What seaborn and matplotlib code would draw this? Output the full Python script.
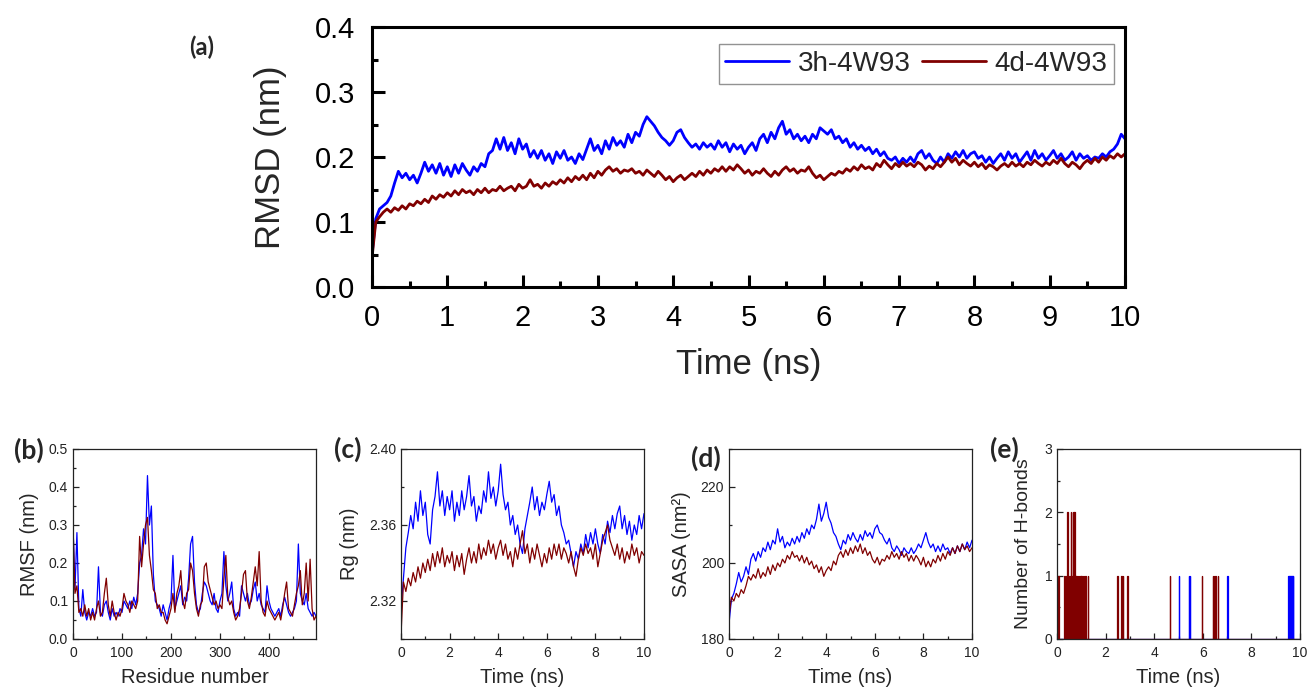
import numpy as np
import pandas as pd
import seaborn as sns
import matplotlib.pyplot as plt
from matplotlib.ticker import MultipleLocator, FormatStrFormatter, FixedLocator

sns.set_theme(style="ticks")
plt.rcParams["font.family"] = ["Liberation Sans", "DejaVu Sans"]

# ---- data ----
series_names = ["3h-4W93", "4d-4W93"]
colors = {"3h-4W93": "#0000ff", "4d-4W93": "#800000"}

# (a) RMSD, one value every 0.05 ns
rmsd_3h = [
    0.05, 0.105, 0.12, 0.125, 0.13, 0.14, 0.16, 0.178, 0.168, 0.175, 0.165, 0.172, 0.16, 0.175, 0.192, 0.178, 0.188, 0.175, 0.19, 0.172,
    0.185, 0.17, 0.188, 0.175, 0.19, 0.18, 0.172, 0.185, 0.178, 0.19, 0.185, 0.205, 0.21, 0.228, 0.212, 0.23, 0.21, 0.222, 0.205, 0.228,
    0.212, 0.22, 0.2, 0.21, 0.198, 0.21, 0.195, 0.205, 0.19, 0.208, 0.198, 0.21, 0.195, 0.2, 0.19, 0.205, 0.196, 0.212, 0.228, 0.21,
    0.218, 0.205, 0.225, 0.212, 0.23, 0.218, 0.225, 0.215, 0.235, 0.222, 0.238, 0.232, 0.25, 0.262, 0.255, 0.248, 0.238, 0.23, 0.225, 0.218,
    0.225, 0.238, 0.242, 0.23, 0.222, 0.215, 0.22, 0.212, 0.222, 0.215, 0.22, 0.212, 0.225, 0.215, 0.222, 0.208, 0.22, 0.212, 0.218, 0.205,
    0.215, 0.222, 0.21, 0.228, 0.235, 0.222, 0.238, 0.228, 0.245, 0.255, 0.235, 0.242, 0.228, 0.235, 0.225, 0.232, 0.222, 0.235, 0.228, 0.245,
    0.24, 0.235, 0.242, 0.228, 0.232, 0.222, 0.228, 0.215, 0.222, 0.212, 0.218, 0.21, 0.215, 0.205, 0.212, 0.202, 0.208, 0.198, 0.195, 0.2,
    0.19, 0.198, 0.192, 0.2, 0.192, 0.205, 0.21, 0.198, 0.205, 0.195, 0.19, 0.2, 0.192, 0.205, 0.198, 0.208, 0.2, 0.21, 0.198, 0.205,
    0.208, 0.198, 0.202, 0.192, 0.2, 0.19, 0.198, 0.205, 0.195, 0.208, 0.198, 0.205, 0.192, 0.2, 0.208, 0.195, 0.21, 0.198, 0.205, 0.195,
    0.202, 0.21, 0.198, 0.205, 0.195, 0.2, 0.208, 0.195, 0.205, 0.198, 0.202, 0.195, 0.2, 0.198, 0.205, 0.2, 0.208, 0.212, 0.22, 0.235,
    0.228,
]
rmsd_4d = [
    0.045, 0.1, 0.108, 0.115, 0.12, 0.115, 0.122, 0.118, 0.125, 0.12, 0.128, 0.125, 0.132, 0.128, 0.135, 0.13, 0.14, 0.135, 0.142, 0.138,
    0.145, 0.14, 0.148, 0.142, 0.15, 0.145, 0.148, 0.142, 0.15, 0.145, 0.152, 0.145, 0.15, 0.148, 0.155, 0.148, 0.152, 0.155, 0.148, 0.158,
    0.152, 0.155, 0.165, 0.155, 0.158, 0.152, 0.16, 0.155, 0.162, 0.158, 0.165, 0.16, 0.168, 0.162, 0.17, 0.165, 0.172, 0.165, 0.175, 0.168,
    0.178, 0.172, 0.18, 0.185, 0.178, 0.182, 0.175, 0.18, 0.178, 0.182, 0.175, 0.178, 0.172, 0.18, 0.175, 0.17, 0.178, 0.172, 0.165, 0.17,
    0.162, 0.168, 0.172, 0.165, 0.17, 0.175, 0.17, 0.178, 0.172, 0.18, 0.175, 0.182, 0.178, 0.185, 0.178, 0.185, 0.18, 0.188, 0.182, 0.175,
    0.18, 0.172, 0.178, 0.175, 0.182, 0.175, 0.17, 0.178, 0.172, 0.18, 0.185, 0.178, 0.182, 0.175, 0.18, 0.178, 0.185, 0.175, 0.168, 0.172,
    0.165, 0.17, 0.175, 0.172, 0.178, 0.175, 0.182, 0.178, 0.185, 0.18, 0.188, 0.182, 0.185, 0.18, 0.19, 0.185, 0.195, 0.188, 0.182, 0.19,
    0.185, 0.192, 0.186, 0.19, 0.185, 0.192, 0.188, 0.18, 0.186, 0.182, 0.19, 0.185, 0.192, 0.2, 0.192, 0.198, 0.188, 0.195, 0.19, 0.186,
    0.192, 0.185, 0.19, 0.182, 0.188, 0.185, 0.18, 0.186, 0.19, 0.185, 0.192, 0.186, 0.19, 0.185, 0.192, 0.188, 0.195, 0.19, 0.186, 0.192,
    0.188, 0.195, 0.19, 0.198, 0.19, 0.185, 0.192, 0.188, 0.182, 0.19, 0.195, 0.19, 0.198, 0.192, 0.2, 0.195, 0.202, 0.198, 0.205, 0.2,
    0.205,
]

# (b) RMSF, one value every 4 residues
rmsf_3h = [
    0.30, 0.13, 0.28, 0.08, 0.06, 0.13, 0.07, 0.05, 0.07, 0.06, 0.08, 0.06, 0.07, 0.19, 0.07, 0.06, 0.09, 0.10, 0.07, 0.05,
    0.08, 0.06, 0.07, 0.06, 0.08, 0.07, 0.10, 0.09, 0.08, 0.10, 0.08, 0.11, 0.09, 0.12, 0.20, 0.22, 0.29, 0.25, 0.43, 0.30,
    0.35, 0.17, 0.10, 0.09, 0.08, 0.06, 0.09, 0.07, 0.05, 0.08, 0.10, 0.22, 0.08, 0.10, 0.12, 0.14, 0.09, 0.11, 0.10, 0.16,
    0.25, 0.27, 0.15, 0.09, 0.07, 0.08, 0.12, 0.15, 0.14, 0.12, 0.10, 0.09, 0.12, 0.08, 0.07, 0.10, 0.12, 0.23, 0.14, 0.10,
    0.12, 0.15, 0.08, 0.06, 0.07, 0.06, 0.14, 0.12, 0.10, 0.12, 0.09, 0.10, 0.13, 0.15, 0.10, 0.12, 0.09, 0.08, 0.07, 0.14,
    0.10, 0.08, 0.07, 0.06, 0.07, 0.08, 0.06, 0.09, 0.11, 0.09, 0.07, 0.06, 0.07, 0.08, 0.10, 0.25, 0.12, 0.10, 0.09, 0.12,
    0.08, 0.07, 0.06, 0.07, 0.06,
]
rmsf_4d = [
    0.30, 0.12, 0.14, 0.07, 0.08, 0.06, 0.09, 0.06, 0.08, 0.05, 0.07, 0.05, 0.08, 0.10, 0.06, 0.07, 0.12, 0.16, 0.09, 0.06,
    0.10, 0.07, 0.05, 0.07, 0.06, 0.08, 0.12, 0.10, 0.09, 0.07, 0.10, 0.09, 0.08, 0.10, 0.27, 0.19, 0.25, 0.30, 0.32, 0.22,
    0.18, 0.13, 0.12, 0.08, 0.09, 0.07, 0.07, 0.05, 0.04, 0.06, 0.08, 0.12, 0.07, 0.12, 0.14, 0.18, 0.10, 0.08, 0.12, 0.13,
    0.20, 0.18, 0.12, 0.08, 0.06, 0.09, 0.10, 0.19, 0.20, 0.15, 0.13, 0.11, 0.09, 0.10, 0.08, 0.09, 0.08, 0.16, 0.22, 0.11,
    0.09, 0.10, 0.07, 0.05, 0.06, 0.08, 0.12, 0.17, 0.18, 0.10, 0.08, 0.11, 0.15, 0.19, 0.14, 0.23, 0.10, 0.07, 0.06, 0.10,
    0.08, 0.07, 0.06, 0.05, 0.06, 0.07, 0.05, 0.08, 0.12, 0.15, 0.08, 0.07, 0.06, 0.09, 0.12, 0.14, 0.18, 0.09, 0.12, 0.20,
    0.10, 0.21, 0.08, 0.05, 0.06,
]

# (c) Rg and (d) SASA, one value every 0.1 ns
rg_3h = [
    2.315, 2.332, 2.348, 2.356, 2.365, 2.358, 2.372, 2.362, 2.378, 2.365, 2.372, 2.355, 2.35, 2.368, 2.375, 2.388, 2.37, 2.378, 2.365, 2.375,
    2.368, 2.378, 2.362, 2.372, 2.365, 2.378, 2.368, 2.375, 2.386, 2.37, 2.375, 2.362, 2.37, 2.366, 2.378, 2.372, 2.388, 2.374, 2.38, 2.37,
    2.378, 2.392, 2.376, 2.368, 2.372, 2.36, 2.365, 2.355, 2.36, 2.35, 2.345, 2.358, 2.365, 2.372, 2.38, 2.368, 2.375, 2.365, 2.372, 2.368,
    2.376, 2.383, 2.372, 2.376, 2.365, 2.37, 2.36, 2.356, 2.35, 2.352, 2.345, 2.338, 2.346, 2.342, 2.35, 2.345, 2.355, 2.348, 2.356, 2.35,
    2.358, 2.35, 2.345, 2.355, 2.35, 2.362, 2.356, 2.365, 2.358, 2.366, 2.37, 2.358, 2.365, 2.355, 2.362, 2.352, 2.36, 2.355, 2.365, 2.358,
    2.366,
]
rg_4d = [
    2.302, 2.33, 2.325, 2.332, 2.328, 2.335, 2.33, 2.338, 2.332, 2.34, 2.335, 2.342, 2.336, 2.345, 2.338, 2.346, 2.34, 2.348, 2.338, 2.344,
    2.34, 2.346, 2.336, 2.344, 2.338, 2.345, 2.334, 2.342, 2.348, 2.34, 2.346, 2.34, 2.35, 2.342, 2.348, 2.344, 2.352, 2.345, 2.35, 2.342,
    2.348, 2.352, 2.344, 2.35, 2.342, 2.346, 2.338, 2.348, 2.342, 2.35, 2.357, 2.345, 2.35, 2.34, 2.348, 2.342, 2.35, 2.344, 2.338, 2.345,
    2.34, 2.348, 2.342, 2.35, 2.344, 2.35, 2.342, 2.348, 2.345, 2.34, 2.346, 2.338, 2.333, 2.342, 2.348, 2.344, 2.35, 2.345, 2.348, 2.342,
    2.35, 2.338, 2.345, 2.352, 2.356, 2.36, 2.352, 2.348, 2.344, 2.35, 2.342, 2.348, 2.34, 2.346, 2.342, 2.35, 2.344, 2.348, 2.34, 2.346,
    2.344,
]
sasa_3h = [
    184, 190.5, 192, 194.5, 197.5, 195, 196.5, 199, 197, 201, 202.5, 200.5, 203, 201.5, 204, 203, 205.5, 203.5, 206, 205,
    209, 205.5, 207, 204, 205.5, 204.5, 206.5, 205, 207, 205.5, 208, 206.5, 209, 207.5, 210, 209, 211.5, 215.5, 211, 213,
    216, 212, 210.5, 208, 207, 205, 203.5, 206, 205, 207.5, 206, 208, 206.5, 205.5, 207.5, 206, 208.5, 207, 208, 206.5,
    209, 210, 208, 207.5, 206, 205, 206.5, 204, 203, 204.5, 203.5, 202, 204, 203, 202.5, 204, 202.5, 203.5, 205, 204,
    206, 208, 205.5, 204, 205, 203, 204.5, 203, 205, 203.5, 204, 202.5, 204, 202.5, 204.5, 203, 205, 203.5, 205.5, 204,
    206,
]
sasa_4d = [
    186, 191, 190, 192, 191, 193, 192, 194, 196.5, 195.5, 197, 196, 198.5, 196, 197.5, 196.5, 199, 197, 199.5, 198,
    200, 199, 201, 200, 202, 201, 203, 201.5, 202, 200.5, 202, 200, 201.5, 199.5, 200.5, 198.5, 199.5, 197.5, 199, 196.5,
    198, 199, 198, 200.5, 199.5, 202, 203, 201.5, 203.5, 202, 204, 202.5, 204.5, 203, 205, 202.5, 204, 202, 203, 201,
    200, 201.5, 199.5, 201, 200.5, 202, 201, 203, 201.5, 202.5, 201, 203, 201.5, 202.5, 200.5, 202, 200.5, 202, 201, 199.5,
    201.5, 199, 200.5, 199, 201, 200, 202, 200.5, 202.5, 201, 203, 202, 204, 202.5, 204.5, 203, 205, 203.5, 204.5, 203,
    204,
]

# (e) hydrogen bonds: time (ns) of each frame with bonds, and the count
hb_3h_time = [5.0, 5.42, 5.46, 7.0, 9.52, 9.56, 9.6, 9.63, 9.67, 9.7]
hb_3h_count = [1, 1, 1, 1, 1, 1, 1, 1, 1, 1]
hb_4d_time = [0.04, 0.3, 0.35, 0.42, 0.47, 0.52, 0.56, 0.6, 0.64, 0.68, 0.72, 0.76, 0.8, 0.85, 0.9, 0.95,
              1.0, 1.05, 1.1, 1.15, 1.27, 2.47, 2.64, 2.71, 2.88, 4.63, 5.96, 6.41, 6.45, 6.5, 6.62]
hb_4d_count = [1, 1, 1, 2, 1, 1, 2, 1, 2, 2, 2, 1, 1, 1, 1, 1,
               1, 1, 1, 1, 1, 1, 1, 1, 1, 1, 1, 1, 1, 1, 1]


def spike_frame(times, counts, width=0.025):
    xs, ys = [0.0], [0.0]
    for t, n in zip(times, counts):
        xs += [t, t, t + width, t + width]
        ys += [0, n, n, 0]
    xs.append(10.0)
    ys.append(0.0)
    return pd.DataFrame({"time": xs, "count": ys})


W, H = 1307, 691
fig = plt.figure(figsize=(W / 100, H / 100), dpi=100)


def add_ax(left, top, right, bottom):
    return fig.add_axes([left / W, 1 - bottom / H, (right - left) / W, (bottom - top) / H])


def style_big(ax):
    for s in ax.spines.values():
        s.set_linewidth(2.2)
        s.set_color("black")
    ax.tick_params(which="both", direction="in", width=2.2, labelsize=21, pad=12, colors="black")
    ax.tick_params(which="major", length=9)
    ax.tick_params(which="minor", length=4.5)


def style_small(ax):
    for s in ax.spines.values():
        s.set_linewidth(0.9)
        s.set_color("#222222")
    ax.tick_params(which="both", direction="in", width=0.9, labelsize=10, colors="#222222")
    ax.tick_params(axis="x", pad=5)
    ax.tick_params(axis="y", pad=3.5)
    ax.tick_params(which="major", length=4)
    ax.tick_params(which="minor", length=2)


# ---- (a) RMSD ----
ax = add_ax(372, 27, 1125, 287)
t_a = np.arange(len(rmsd_3h)) * 0.05
sns.lineplot(x=t_a, y=rmsd_3h, color=colors["3h-4W93"], linewidth=2.0, label="3h-4W93", ax=ax)
sns.lineplot(x=np.arange(len(rmsd_4d)) * 0.05, y=rmsd_4d, color=colors["4d-4W93"], linewidth=2.0, label="4d-4W93", ax=ax)
ax.set_xlim(0, 10)
ax.set_ylim(0, 0.4)
ax.xaxis.set_major_locator(MultipleLocator(1))
ax.xaxis.set_minor_locator(MultipleLocator(0.5))
ax.yaxis.set_major_locator(MultipleLocator(0.1))
ax.yaxis.set_minor_locator(MultipleLocator(0.05))
ax.yaxis.set_major_formatter(FormatStrFormatter("%.1f"))
style_big(ax)
ax.set_xlabel("Time (ns)", fontsize=25, labelpad=12)
ax.set_ylabel("RMSD (nm)", fontsize=25, labelpad=20)
leg = ax.legend(ncol=2, loc="upper right", bbox_to_anchor=(0.985, 0.935), borderaxespad=0,
                fontsize=20, frameon=True, fancybox=False, handlelength=2.3, handletextpad=0.3,
                columnspacing=0.4, borderpad=0.25)
leg.get_frame().set_edgecolor("#777777")
leg.get_frame().set_linewidth(1.0)
for line in leg.get_lines():
    line.set_linewidth(2.0)

# ---- bottom row ----
tops, bottoms = 449, 639
lefts = [73, 401, 729, 1057]
pw = 243
lw_small = 0.9
lab_fs = 14.5

# (b) RMSF
ax = add_ax(lefts[0], tops, lefts[0] + pw, bottoms)
res = np.arange(len(rmsf_3h)) * 4
sns.lineplot(x=res, y=rmsf_3h, color=colors["3h-4W93"], linewidth=lw_small, ax=ax)
sns.lineplot(x=np.arange(len(rmsf_4d)) * 4, y=rmsf_4d, color=colors["4d-4W93"], linewidth=lw_small, ax=ax)
ax.set_xlim(0, 496)
ax.set_ylim(0, 0.5)
ax.xaxis.set_major_locator(MultipleLocator(100))
ax.xaxis.set_minor_locator(MultipleLocator(50))
ax.yaxis.set_major_locator(MultipleLocator(0.1))
ax.yaxis.set_minor_locator(MultipleLocator(0.05))
ax.yaxis.set_major_formatter(FormatStrFormatter("%.1f"))
style_small(ax)
ax.set_xlabel("Residue number", fontsize=lab_fs, labelpad=6)
ax.set_ylabel("RMSF (nm)", fontsize=lab_fs, labelpad=7)

# (c) Rg
ax = add_ax(lefts[1], tops, lefts[1] + pw, bottoms)
t_c = np.arange(len(rg_3h)) * 0.1
sns.lineplot(x=t_c, y=rg_3h, color=colors["3h-4W93"], linewidth=lw_small, ax=ax)
sns.lineplot(x=np.arange(len(rg_4d)) * 0.1, y=rg_4d, color=colors["4d-4W93"], linewidth=lw_small, ax=ax)
ax.set_xlim(0, 10)
ax.set_ylim(2.30, 2.40)
ax.xaxis.set_major_locator(MultipleLocator(2))
ax.xaxis.set_minor_locator(MultipleLocator(1))
ax.yaxis.set_major_locator(FixedLocator([2.32, 2.36, 2.40]))
ax.yaxis.set_minor_locator(FixedLocator([2.30, 2.34, 2.38]))
ax.yaxis.set_major_formatter(FormatStrFormatter("%.2f"))
style_small(ax)
ax.set_xlabel("Time (ns)", fontsize=lab_fs, labelpad=6)
ax.set_ylabel("Rg (nm)", fontsize=lab_fs, labelpad=7)

# (d) SASA
ax = add_ax(lefts[2], tops, lefts[2] + pw, bottoms)
t_d = np.arange(len(sasa_3h)) * 0.1
sns.lineplot(x=t_d, y=sasa_3h, color=colors["3h-4W93"], linewidth=lw_small, ax=ax)
sns.lineplot(x=np.arange(len(sasa_4d)) * 0.1, y=sasa_4d, color=colors["4d-4W93"], linewidth=lw_small, ax=ax)
ax.set_xlim(0, 10)
ax.set_ylim(180, 230)
ax.xaxis.set_major_locator(MultipleLocator(2))
ax.xaxis.set_minor_locator(MultipleLocator(1))
ax.yaxis.set_major_locator(MultipleLocator(20))
ax.yaxis.set_minor_locator(MultipleLocator(10))
style_small(ax)
ax.set_xlabel("Time (ns)", fontsize=lab_fs, labelpad=6)
ax.set_ylabel("SASA (nm²)", fontsize=lab_fs, labelpad=7)

# (e) H-bonds
ax = add_ax(lefts[3], tops, lefts[3] + pw, bottoms)
hb_3h = spike_frame(hb_3h_time, hb_3h_count)
hb_4d = spike_frame(hb_4d_time, hb_4d_count)
sns.lineplot(data=hb_3h, x="time", y="count", color=colors["3h-4W93"], linewidth=lw_small,
             estimator=None, sort=False, ax=ax)
sns.lineplot(data=hb_4d, x="time", y="count", color=colors["4d-4W93"], linewidth=lw_small,
             estimator=None, sort=False, ax=ax)
ax.set_xlim(0, 10)
ax.set_ylim(0, 3)
ax.xaxis.set_major_locator(MultipleLocator(2))
ax.xaxis.set_minor_locator(MultipleLocator(1))
ax.yaxis.set_major_locator(MultipleLocator(1))
ax.yaxis.set_minor_locator(MultipleLocator(0.5))
style_small(ax)
ax.set_xlabel("Time (ns)", fontsize=lab_fs, labelpad=6)
ax.set_ylabel("Number of H-bonds", fontsize=14, labelpad=9)

# panel letters
letter_font = ["Lato", "DejaVu Sans"]
fig.text(202 / W, 1 - 47 / H, "(a)", fontsize=17, fontweight="bold", family=letter_font, ha="center", va="center")
for x, y, s in [(29, 450, "(b)"), (348, 449, "(c)"), (706, 458, "(d)"), (1004, 449, "(e)")]:
    fig.text(x / W, 1 - y / H, s, fontsize=19, fontweight="bold", family=letter_font, ha="center", va="center")

fig.savefig("out.png", dpi=100)
